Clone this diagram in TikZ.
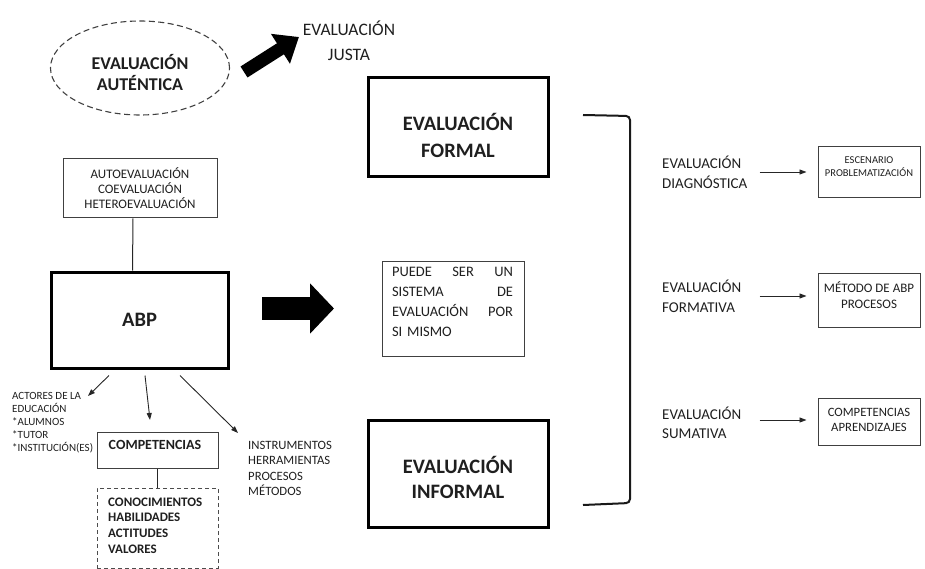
\documentclass[tikz,border=0pt]{standalone}
\usepackage{fontspec}
\setmainfont{Carlito}
\usetikzlibrary{arrows.meta,shapes.geometric,calc}
\begin{document}
\begin{tikzpicture}[x=1pt,y=-1pt,
  txt/.style={inner sep=0pt, text=black!88},
  thickbox/.style={draw=black, line width=3pt, inner sep=0pt},
  thinbox/.style={draw=black!75, line width=1pt, inner sep=0pt},
  smallarrow/.style={draw=black!85, line width=0.9pt, -{Triangle[length=7pt,width=5pt]}},
  fatarrow/.style={draw=black, line width=#1}
]
\useasboundingbox (0,0) rectangle (925,569);

% ---- top left: evaluación auténtica
\node[draw=black!75, dash pattern=on 6pt off 3.5pt, line width=1.1pt, ellipse,
      minimum width=179pt, minimum height=94pt, inner sep=0pt] (ell) at (140,68) {};
\node[txt, font=\fontsize{18}{21}\selectfont\bfseries, align=center] (ellt) at (140,73) {EVALUACIÓN\\AUTÉNTICA};
\node[txt, font=\fontsize{17.5}{25}\selectfont, align=center] (just) at (349,40.5) {EVALUACIÓN\\JUSTA};
\coordinate (fa1s) at (244,72);
\coordinate (fa1e) at (299,37);
\draw[fatarrow=13pt, -{Triangle[length=22pt,width=34pt]}] (fa1s) -- (fa1e);

% ---- ABP column
\node[thinbox, minimum width=154pt, minimum height=59pt] (auto) at (140,188.5) {};
\node[txt, font=\fontsize{13}{15}\selectfont, align=center] (autot) at (140,188.5) {AUTOEVALUACIÓN\\COEVALUACIÓN\\HETEROEVALUACIÓN};
\node[thickbox, minimum width=177pt, minimum height=96pt, font=\fontsize{20.5}{24}\selectfont\bfseries, text=black!88] (abp) at (139.5,320) {ABP};
\draw[line width=1pt, black!85] ([xshift=-7pt]auto.south) -- ([xshift=-7pt]abp.north);

\node[txt, font=\fontsize{11}{13}\selectfont, align=left, anchor=west] (act) at (12,423) {ACTORES DE LA\\EDUCACIÓN\\*ALUMNOS\\*TUTOR\\*INSTITUCIÓN(ES)};
\node[thinbox, minimum width=121pt, minimum height=36pt] (comp) at (157.5,450) {};
\node[txt, font=\fontsize{14}{16}\selectfont\bfseries] (compt) at (155,445) {COMPETENCIAS};
\node[draw=black!70, dash pattern=on 4pt off 3pt, line width=1pt, inner sep=0pt,
      minimum width=121pt, minimum height=80pt] (dash) at (157.5,528) {};
\node[txt, font=\fontsize{13}{15.6}\selectfont\bfseries, align=left, anchor=west] (dasht) at (108,525.5) {CONOCIMIENTOS\\HABILIDADES\\ACTITUDES\\VALORES};
\draw[line width=1pt, black!85] (comp.south) -- (dash.north);
\node[txt, font=\fontsize{12.7}{15.5}\selectfont, align=left, anchor=west] (inst) at (248,468.5) {INSTRUMENTOS\\HERRAMIENTAS\\PROCESOS\\MÉTODOS};

\coordinate (b1) at (88,396);
\coordinate (b2) at (150,420);
\coordinate (b3) at (238,433);
\draw[smallarrow] ([xshift=-30.5pt,yshift=-6pt]abp.south) -- (b1);
\draw[smallarrow] ([xshift=5.5pt,yshift=-6pt]abp.south) -- (b2);
\draw[smallarrow] ([xshift=40.5pt,yshift=-6pt]abp.south) -- (b3);

\coordinate (fa2s) at (262,308.5);
\coordinate (fa2e) at (334,308.5);
\draw[fatarrow=23pt, -{Triangle[length=24pt,width=49pt]}] (fa2s) -- (fa2e);

% ---- middle column
\node[thickbox, minimum width=180pt, minimum height=99pt] (formal) at (458,127.5) {};
\node[txt, font=\fontsize{20.5}{27}\selectfont\bfseries, align=center] (formalt) at (458,135) {EVALUACIÓN\\FORMAL};
\node[thinbox, minimum width=142pt, minimum height=95pt] (puede) at (453,308.5) {};
\node[txt, font=\fontsize{14.5}{20}\selectfont, text width=121pt, align=left] (puedet) at (452.5,302)
  {PUEDE\hfill SER\hfill UN\\SISTEMA\hfill DE\\EVALUACIÓN\hfill POR\\SI MISMO};
\node[thickbox, minimum width=180pt, minimum height=107pt] (informal) at (458,473.5) {};
\node[txt, font=\fontsize{20.5}{25}\selectfont\bfseries, align=center] (informalt) at (458,477.5) {EVALUACIÓN\\INFORMAL};

% ---- bracket
\draw[line width=2pt, black!90, rounded corners=4pt] (583,115) -- (630,116) -- (630,503) -- (583,505);

% ---- right column
\node[txt, font=\fontsize{15}{19.5}\selectfont, align=left, anchor=west] (ed) at (662,172.5) {EVALUACIÓN\\DIAGNÓSTICA};
\node[txt, font=\fontsize{15}{19.5}\selectfont, align=left, anchor=west] (ef) at (662,296.5) {EVALUACIÓN\\FORMATIVA};
\node[txt, font=\fontsize{15}{19.5}\selectfont, align=left, anchor=west] (es) at (662,423) {EVALUACIÓN\\SUMATIVA};

\node[thinbox, minimum width=102pt, minimum height=51pt] (bd) at (869,172.5) {};
\node[txt, font=\fontsize{10.5}{13}\selectfont, align=center] (bdt) at (869,166.5) {ESCENARIO\\PROBLEMATIZACIÓN};
\node[thinbox, minimum width=102pt, minimum height=54pt] (bf) at (869,300) {};
\node[txt, font=\fontsize{13}{16}\selectfont, align=center] (bft) at (869,295) {MÉTODO DE ABP\\PROCESOS};
\node[thinbox, minimum width=102pt, minimum height=47pt] (bs) at (869,421.5) {};
\node[txt, font=\fontsize{12.7}{15}\selectfont, align=center] (bst) at (869,419.5) {COMPETENCIAS\\APRENDIZAJES};

\draw[smallarrow] ($(bd.west)+(-58,-0.5)$) -- ($(bd.west)+(-11,-0.5)$);
\draw[smallarrow] ($(bf.west)+(-58,-4)$) -- ($(bf.west)+(-11,-4)$);
\draw[smallarrow] ($(bs.west)+(-58,-1.5)$) -- ($(bs.west)+(-11,-1.5)$);
\end{tikzpicture}
\end{document}
